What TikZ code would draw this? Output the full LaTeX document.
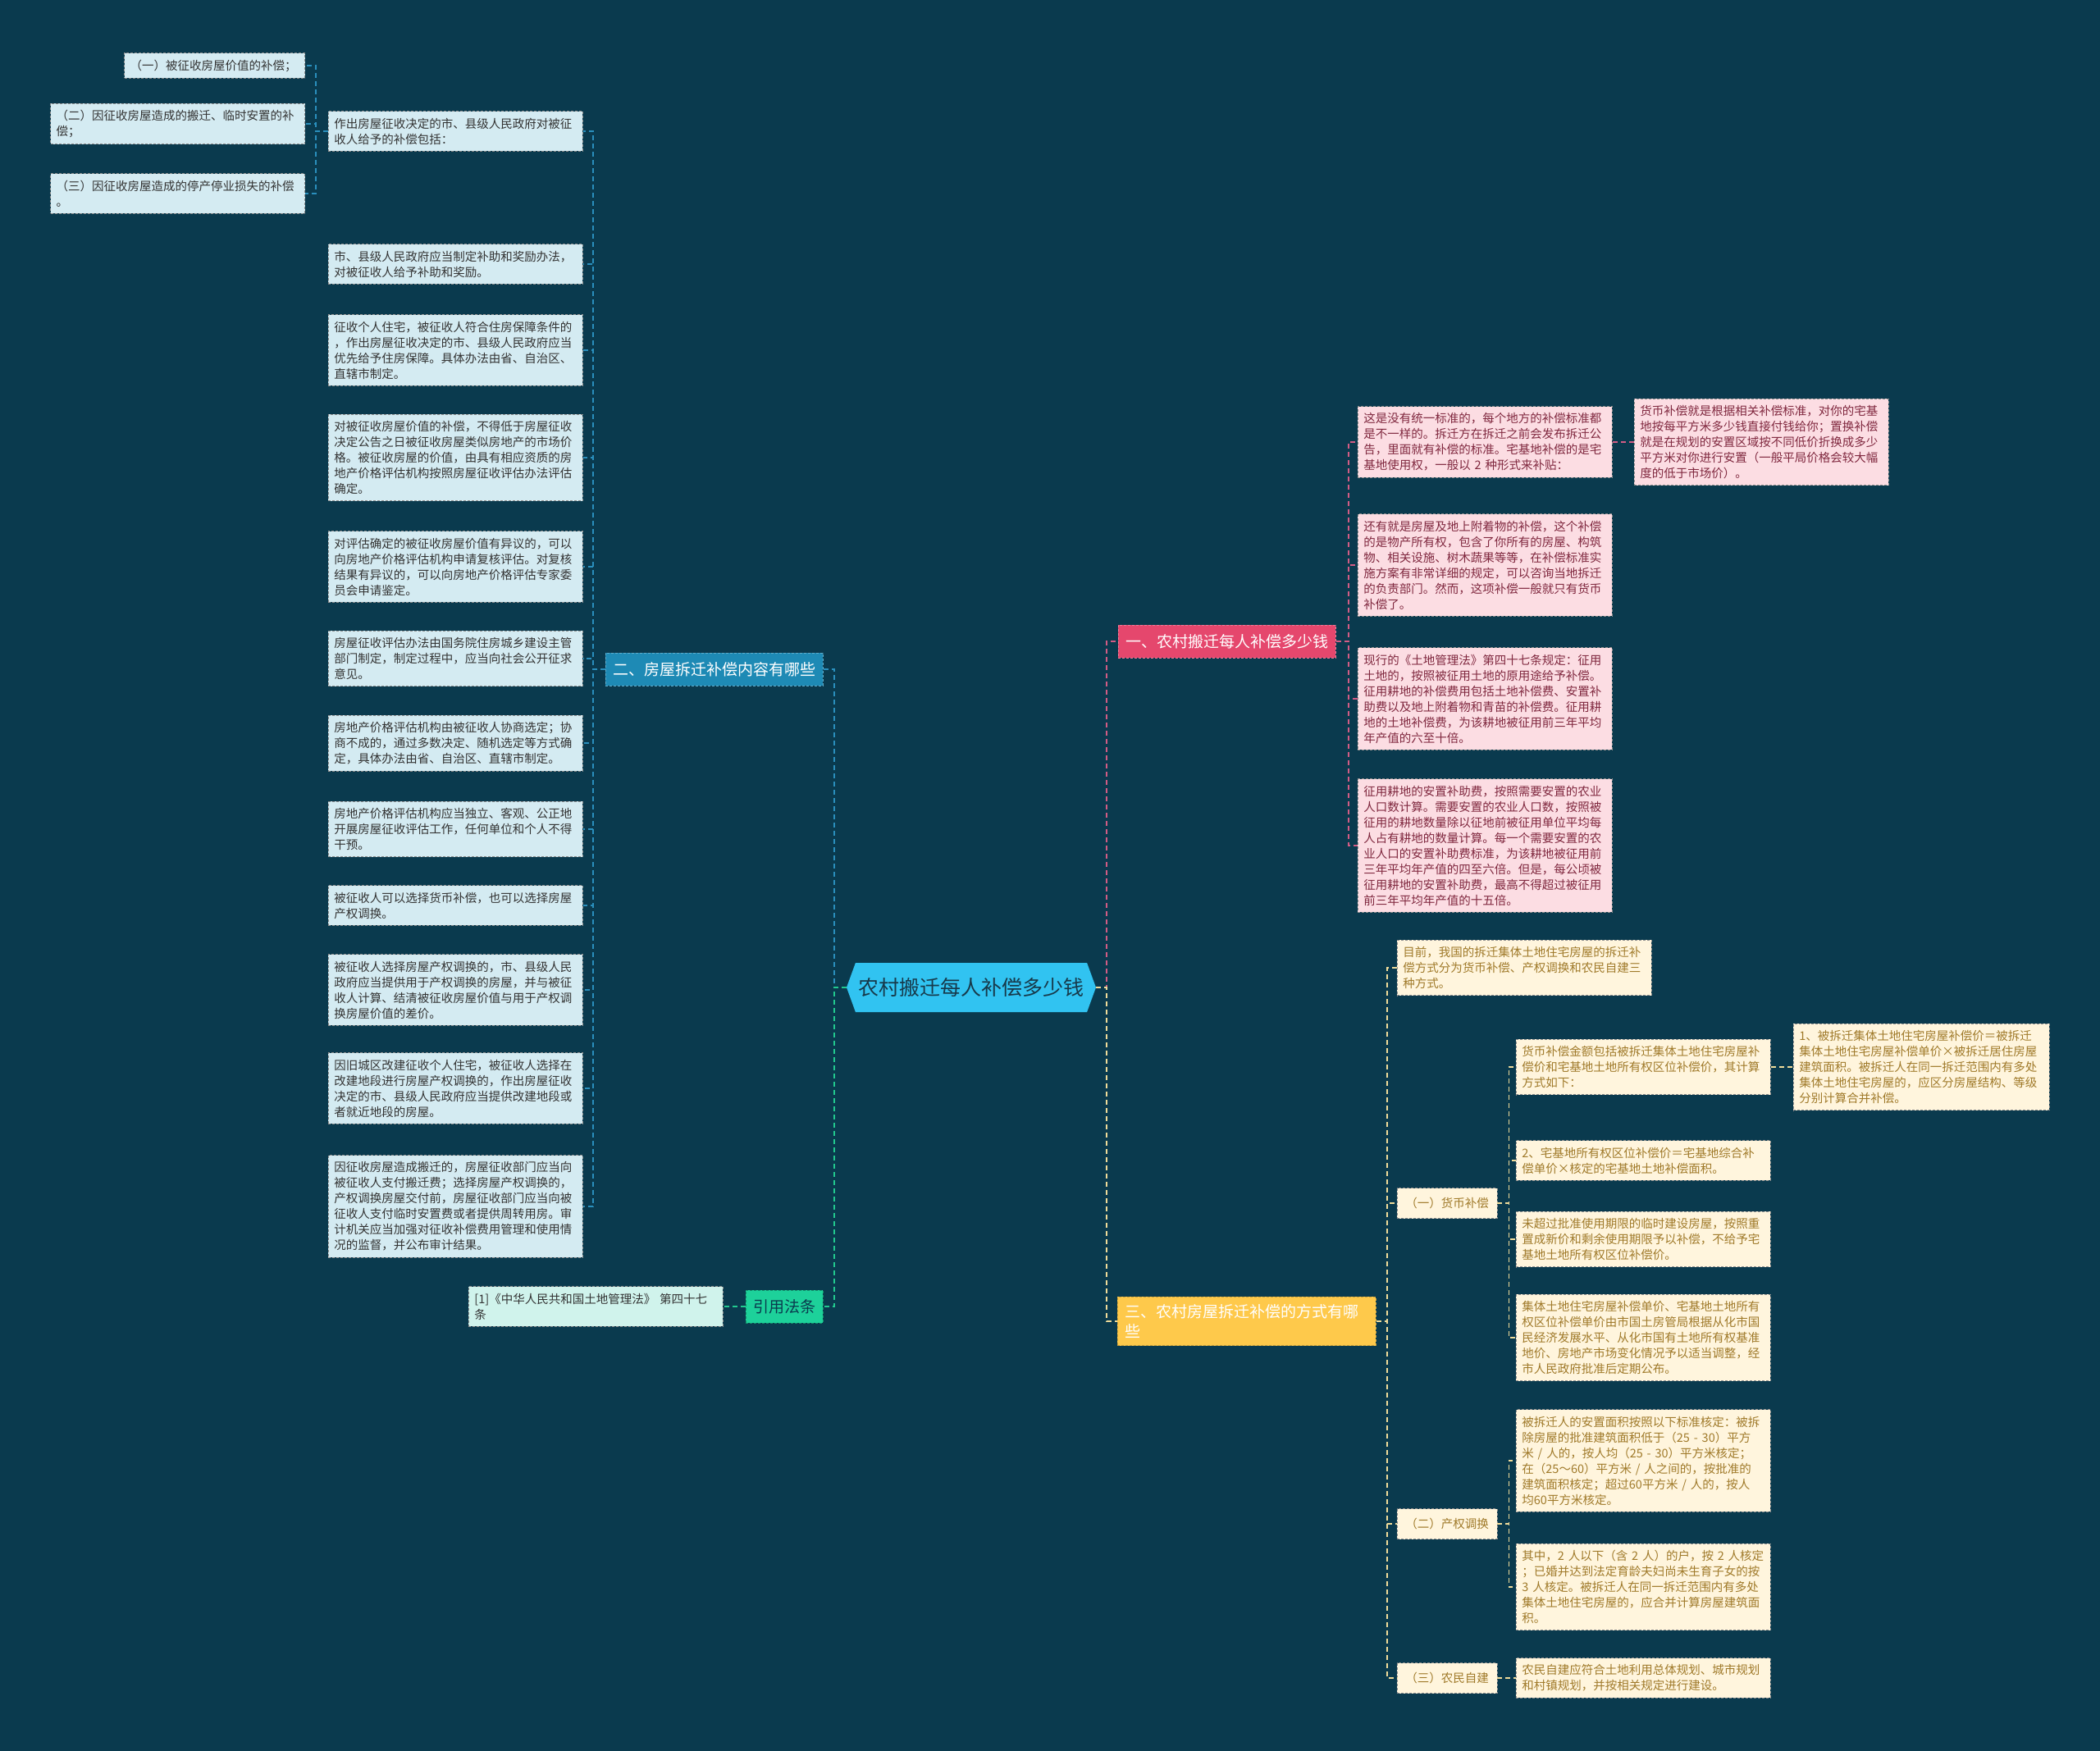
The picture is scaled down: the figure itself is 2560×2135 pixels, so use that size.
\documentclass[tikz,border=0pt]{standalone}
\usepackage{fontspec}
\setmainfont{Noto Sans CJK SC}
\usetikzlibrary{shapes.symbols}
\definecolor{bgc}{HTML}{0A3A4E}
\definecolor{rootc}{HTML}{31C3F1}
\definecolor{bluec}{HTML}{1E8AB5}
\definecolor{greenc}{HTML}{1DD19A}
\definecolor{pinkc}{HTML}{E5476D}
\definecolor{yelc}{HTML}{FEC94B}
\definecolor{lbfill}{HTML}{D4EBF2}
\definecolor{lgfill}{HTML}{D0F3EC}
\definecolor{lpfill}{HTML}{FCDDE3}
\definecolor{lyfill}{HTML}{FFF5DD}
\definecolor{lnblue}{HTML}{2A8FBD}
\definecolor{lngreen}{HTML}{22C98F}
\definecolor{lnpink}{HTML}{D35C85}
\definecolor{lnyel}{HTML}{F0DC9A}
\tikzset{
  box/.style={draw, dash pattern=on 3pt off 2pt, line width=0.8pt, align=left, inner xsep=7pt, inner ysep=8pt, text width=296pt, font=\fontsize{14.5}{19}\selectfont},
  leafb/.style={box, fill=lbfill, draw=HTMLgray, text=black!80},
  leafg/.style={box, fill=lgfill, draw=HTMLgray, text=black!80},
  leafp/.style={box, fill=lpfill, draw=black!45, text={rgb,255:red,128;green,40;blue,63}},
  leafy/.style={box, fill=lyfill, draw=black!45, text={rgb,255:red,160;green,122;blue,42}},
  subbox/.style={leafy, text width=, inner xsep=10pt, minimum height=37pt},
  br/.style={draw, dash pattern=on 3pt off 2pt, line width=0.8pt, inner xsep=9pt, inner ysep=9pt, minimum height=40pt, align=left, font=\fontsize{19}{24}\selectfont},
  rootn/.style={signal, signal to=east and west, signal pointer angle=140, fill=rootc, text={rgb,255:red,23;green,57;blue,74}, minimum width=304pt, minimum height=60pt, inner xsep=2pt, font=\fontsize{25}{30}\selectfont},
  ln/.style={dash pattern=on 6pt off 4pt, line width=1.6pt},
  lnb/.style={ln, draw=lnblue},
  lng/.style={ln, draw=lngreen},
  lnp/.style={ln, draw=lnpink},
  lny/.style={ln, draw=lnyel}
}
\colorlet{HTMLgray}{black!45}
\begin{document}
\begin{tikzpicture}[x=1pt,y=-1pt]
\fill[bgc] (0,0) rectangle (2560,2135);
\useasboundingbox (0,0) rectangle (2560,2135);

% centre
\node[rootn] (root) at (1184,1204) {农村搬迁每人补偿多少钱};

% left half
\node[br, anchor=west, fill=bluec, draw=bluec!70!white, text=white] (two) at (738,816) {二、房屋拆迁补偿内容有哪些};
\node[br, anchor=west, fill=greenc, draw=greenc!70!black, text=bgc] (law) at (909,1593) {引用法条};
\node[leafg, anchor=west] (ref) at (571,1593) {[1]《中华人民共和国土地管理法》 第四十七\\条};

\node[leafb, anchor=west] (l1) at (400,160) {作出房屋征收决定的市、县级人民政府对被征\\收人给予的补偿包括：};
\node[leafb, anchor=west] (l2) at (400,322) {市、县级人民政府应当制定补助和奖励办法，\\对被征收人给予补助和奖励。};
\node[leafb, anchor=west] (l3) at (400,427) {征收个人住宅，被征收人符合住房保障条件的\\，作出房屋征收决定的市、县级人民政府应当\\优先给予住房保障。具体办法由省、自治区、\\直辖市制定。};
\node[leafb, anchor=west] (l4) at (400,558) {对被征收房屋价值的补偿，不得低于房屋征收\\决定公告之日被征收房屋类似房地产的市场价\\格。被征收房屋的价值，由具有相应资质的房\\地产价格评估机构按照房屋征收评估办法评估\\确定。};
\node[leafb, anchor=west] (l5) at (400,691) {对评估确定的被征收房屋价值有异议的，可以\\向房地产价格评估机构申请复核评估。对复核\\结果有异议的，可以向房地产价格评估专家委\\员会申请鉴定。};
\node[leafb, anchor=west] (l6) at (400,803) {房屋征收评估办法由国务院住房城乡建设主管\\部门制定，制定过程中，应当向社会公开征求\\意见。};
\node[leafb, anchor=west] (l7) at (400,906) {房地产价格评估机构由被征收人协商选定；协\\商不成的，通过多数决定、随机选定等方式确\\定，具体办法由省、自治区、直辖市制定。};
\node[leafb, anchor=west] (l8) at (400,1011) {房地产价格评估机构应当独立、客观、公正地\\开展房屋征收评估工作，任何单位和个人不得\\干预。};
\node[leafb, anchor=west] (l9) at (400,1104) {被征收人可以选择货币补偿，也可以选择房屋\\产权调换。};
\node[leafb, anchor=west] (l10) at (400,1207) {被征收人选择房屋产权调换的，市、县级人民\\政府应当提供用于产权调换的房屋，并与被征\\收人计算、结清被征收房屋价值与用于产权调\\换房屋价值的差价。};
\node[leafb, anchor=west] (l11) at (400,1327) {因旧城区改建征收个人住宅，被征收人选择在\\改建地段进行房屋产权调换的，作出房屋征收\\决定的市、县级人民政府应当提供改建地段或\\者就近地段的房屋。};
\node[leafb, anchor=west] (l12) at (400,1471) {因征收房屋造成搬迁的，房屋征收部门应当向\\被征收人支付搬迁费；选择房屋产权调换的，\\产权调换房屋交付前，房屋征收部门应当向被\\征收人支付临时安置费或者提供周转用房。审\\计机关应当加强对征收补偿费用管理和使用情\\况的监督，并公布审计结果。};

\node[leafb, anchor=east, text width=206pt] (f1) at (372,80) {（一）被征收房屋价值的补偿；};
\node[leafb, anchor=east] (f2) at (372,151) {（二）因征收房屋造成的搬迁、临时安置的补\\偿；};
\node[leafb, anchor=east] (f3) at (372,236) {（三）因征收房屋造成的停产停业损失的补偿\\。};

% right half
\node[br, anchor=west, fill=pinkc, draw=pinkc!70!white, text=white] (one) at (1363,782) {一、农村搬迁每人补偿多少钱};
\node[br, anchor=west, fill=yelc, draw=yelc!80!black, text=white, text width=297pt] (three) at (1362,1611) {三、农村房屋拆迁补偿的方式有哪\\些};

\node[leafp, anchor=west] (p1) at (1655,539) {这是没有统一标准的，每个地方的补偿标准都\\是不一样的。拆迁方在拆迁之前会发布拆迁公\\告，里面就有补偿的标准。宅基地补偿的是宅\\基地使用权，一般以 2 种形式来补贴：};
\node[leafp, anchor=west] (p1a) at (1992,539) {货币补偿就是根据相关补偿标准，对你的宅基\\地按每平方米多少钱直接付钱给你；置换补偿\\就是在规划的安置区域按不同低价折换成多少\\平方米对你进行安置（一般平局价格会较大幅\\度的低于市场价）。};
\node[leafp, anchor=west] (p2) at (1655,689) {还有就是房屋及地上附着物的补偿，这个补偿\\的是物产所有权，包含了你所有的房屋、构筑\\物、相关设施、树木蔬果等等，在补偿标准实\\施方案有非常详细的规定，可以咨询当地拆迁\\的负责部门。然而，这项补偿一般就只有货币\\补偿了。};
\node[leafp, anchor=west] (p3) at (1655,852) {现行的《土地管理法》第四十七条规定：征用\\土地的，按照被征用土地的原用途给予补偿。\\征用耕地的补偿费用包括土地补偿费、安置补\\助费以及地上附着物和青苗的补偿费。征用耕\\地的土地补偿费，为该耕地被征用前三年平均\\年产值的六至十倍。};
\node[leafp, anchor=west] (p4) at (1655,1031) {征用耕地的安置补助费，按照需要安置的农业\\人口数计算。需要安置的农业人口数，按照被\\征用的耕地数量除以征地前被征用单位平均每\\人占有耕地的数量计算。每一个需要安置的农\\业人口的安置补助费标准，为该耕地被征用前\\三年平均年产值的四至六倍。但是，每公顷被\\征用耕地的安置补助费，最高不得超过被征用\\前三年平均年产值的十五倍。};

\node[leafy, anchor=west] (y0) at (1703,1180) {目前，我国的拆迁集体土地住宅房屋的拆迁补\\偿方式分为货币补偿、产权调换和农民自建三\\种方式。};
\node[subbox, anchor=west] (y1) at (1703,1467) {（一）货币补偿};
\node[subbox, anchor=west] (y2) at (1703,1858) {（二）产权调换};
\node[subbox, anchor=west] (y3) at (1703,2046) {（三）农民自建};

\node[leafy, anchor=west] (y1a) at (1848,1301) {货币补偿金额包括被拆迁集体土地住宅房屋补\\偿价和宅基地土地所有权区位补偿价，其计算\\方式如下：};
\node[leafy, anchor=west, text width=298pt] (y1x) at (2186,1301) {1、被拆迁集体土地住宅房屋补偿价＝被拆迁\\集体土地住宅房屋补偿单价×被拆迁居住房屋\\建筑面积。被拆迁人在同一拆迁范围内有多处\\集体土地住宅房屋的，应区分房屋结构、等级\\分别计算合并补偿。};
\node[leafy, anchor=west] (y1b) at (1848,1415) {2、宅基地所有权区位补偿价＝宅基地综合补\\偿单价×核定的宅基地土地补偿面积。};
\node[leafy, anchor=west] (y1c) at (1848,1511) {未超过批准使用期限的临时建设房屋，按照重\\置成新价和剩余使用期限予以补偿，不给予宅\\基地土地所有权区位补偿价。};
\node[leafy, anchor=west] (y1d) at (1848,1631) {集体土地住宅房屋补偿单价、宅基地土地所有\\权区位补偿单价由市国土房管局根据从化市国\\民经济发展水平、从化市国有土地所有权基准\\地价、房地产市场变化情况予以适当调整，经\\市人民政府批准后定期公布。};
\node[leafy, anchor=west] (y2a) at (1848,1781) {被拆迁人的安置面积按照以下标准核定：被拆\\除房屋的批准建筑面积低于（25 - 30）平方\\米 / 人的，按人均（25 - 30）平方米核定；\\在（25～60）平方米 / 人之间的，按批准的\\建筑面积核定；超过60平方米 / 人的，按人\\均60平方米核定。};
\node[leafy, anchor=west] (y2b) at (1848,1935) {其中，2 人以下（含 2 人）的户，按 2 人核定\\；已婚并达到法定育龄夫妇尚未生育子女的按\\ 3 人核定。被拆迁人在同一拆迁范围内有多处\\集体土地住宅房屋的，应合并计算房屋建筑面\\积。};
\node[leafy, anchor=west] (y3a) at (1848,2046) {农民自建应符合土地利用总体规划、城市规划\\和村镇规划，并按相关规定进行建设。};

% connectors
\draw[lnb] (root.west) -- ++(-15,0) |- (two.east);
\draw[lng] (root.west) -- ++(-15,0) |- (law.east);
\draw[lng] (law.west) -- (ref.east);
\foreach \n in {l1,l2,l3,l4,l5,l6,l7,l8,l9,l10,l11,l12}
  \draw[lnb] (two.west) -- ++(-15,0) |- (\n.east);
\foreach \n in {f1,f2,f3}
  \draw[lnb] (l1.west) -- ++(-15,0) |- (\n.east);

\draw[lnp] (root.east) -- ++(13,0) |- (one.west);
\draw[lny] (root.east) -- ++(13,0) |- (three.west);
\foreach \n in {p1,p2,p3,p4}
  \draw[lnp] (one.east) -- ++(15,0) |- (\n.west);
\draw[lnp] (p1.east) -- (p1a.west);
\foreach \n in {y0,y1,y2,y3}
  \draw[lny] (three.east) -- ++(13,0) |- (\n.west);
\foreach \n in {y1a,y1b,y1c,y1d}
  \draw[lny] (y1.east) -- ++(14,0) |- (\n.west);
\draw[lny] (y1a.east) -- (y1x.west);
\foreach \n in {y2a,y2b}
  \draw[lny] (y2.east) -- ++(14,0) |- (\n.west);
\draw[lny] (y3.east) -- (y3a.west);
\end{tikzpicture}
\end{document}
